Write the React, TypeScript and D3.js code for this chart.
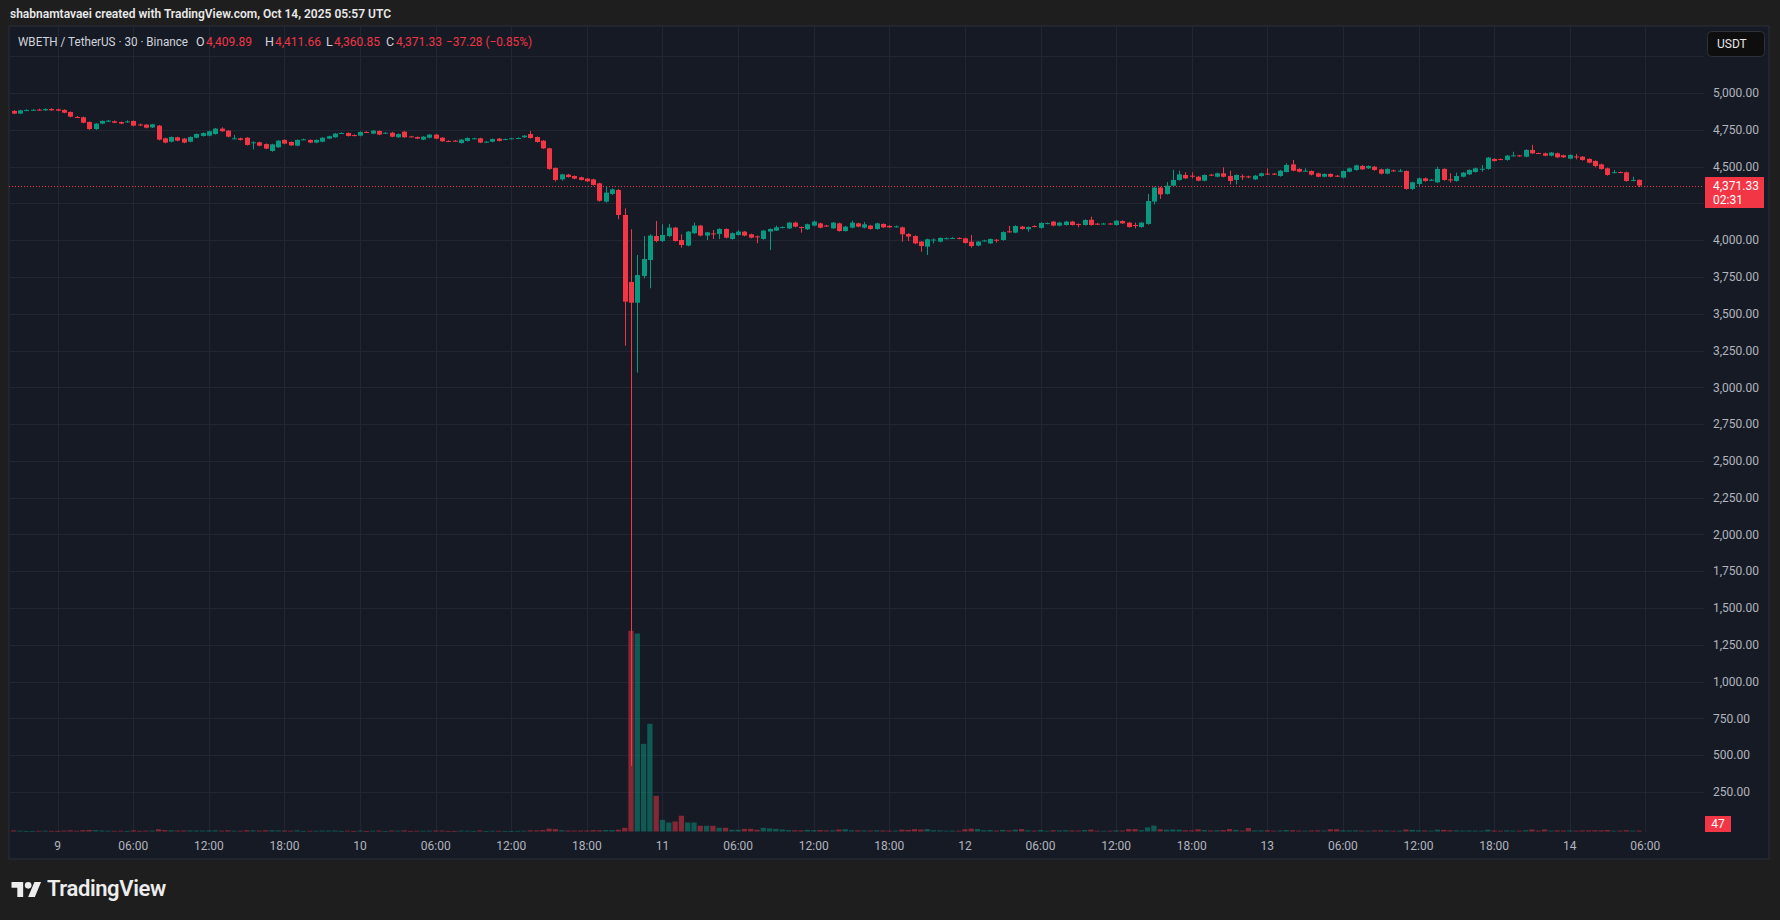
import React from "react";
import * as d3 from "d3";

// ---------- DATA ----------
const opens = [
  4878,4860,4882,4884,4887,4882,4891,4889,4885,4871,
  4837,4835,4803,4755,4792,4806,4808,4803,4803,4810,
  4786,4785,4766,4778,4692,4669,4699,4690,4669,4696,
  4708,4710,4721,4758,4744,4689,4692,4696,4661,4665,
  4653,4606,4631,4681,4667,4642,4683,4681,4663,4669,
  4690,4699,4726,4728,4714,4710,4735,4724,4742,4728,
  4730,4699,4737,4705,4701,4683,4696,4717,4696,4674,
  4676,4660,4674,4690,4692,4667,4669,4690,4685,4689,
  4692,4699,4721,4701,4676,4624,4490,4413,4445,4436,
  4427,4418,4413,4386,4262,4314,4341,4171,3716,3575,
  3757,3865,4028,3994,4028,4085,4001,3963,4047,4099,
  4031,4046,4042,4076,4008,4035,4058,4040,4026,4008,
  4058,4065,4085,4080,4119,4089,4074,4099,4114,4099,
  4080,4114,4062,4085,4114,4085,4099,4076,4110,4097,
  4090,4087,4042,4028,3990,3956,4001,3990,4010,4012,
  4015,4012,3990,3963,3995,3978,4003,4001,4060,4051,
  4092,4074,4096,4083,4113,4126,4099,4103,4126,4110,
  4103,4139,4112,4110,4113,4103,4130,4119,4103,4089,
  4110,4262,4357,4314,4370,4409,4443,4438,4431,4404,
  4445,4431,4454,4436,4409,4434,4433,4413,4436,4452,
  4452,4436,4463,4515,4484,4470,4470,4454,4431,4450,
  4438,4425,4465,4477,4504,4488,4499,4481,4452,4474,
  4468,4470,4348,4382,4420,4407,4393,4484,4413,4402,
  4431,4447,4463,4482,4484,4552,4551,4545,4573,4576,
  4567,4613,4592,4590,4574,4590,4577,4554,4569,4567,
  4552,4538,4515,4488,4459,4463,4461,4405,4409.89,
];
const highs = [
  4884,4886,4889,4890,4893,4896,4897,4893,4890,4875,
  4844,4840,4806,4795,4814,4817,4813,4806,4814,4814,
  4792,4788,4791,4783,4696,4705,4703,4694,4705,4725,
  4732,4744,4762,4767,4748,4715,4697,4700,4672,4669,
  4657,4655,4680,4685,4671,4685,4690,4685,4685,4700,
  4710,4728,4733,4732,4719,4739,4740,4748,4746,4734,
  4736,4725,4741,4709,4705,4707,4721,4721,4700,4679,
  4680,4687,4698,4696,4696,4673,4691,4694,4691,4696,
  4698,4714,4742,4705,4680,4628,4494,4451,4450,4440,
  4431,4422,4417,4390,4364,4352,4348,4216,4074,3899,
  4028,4040,4130,4108,4110,4090,4040,4062,4119,4104,
  4056,4069,4080,4080,4053,4069,4062,4044,4031,4069,
  4080,4099,4094,4124,4126,4092,4112,4133,4119,4104,
  4124,4119,4096,4133,4119,4124,4104,4119,4114,4101,
  4099,4092,4047,4033,3994,4010,4012,4019,4019,4020,
  4019,4017,4035,3994,4003,4012,4006,4060,4096,4101,
  4097,4094,4101,4122,4121,4131,4124,4131,4131,4114,
  4142,4160,4117,4117,4117,4137,4135,4124,4119,4124,
  4314,4362,4362,4395,4477,4472,4461,4461,4436,4447,
  4450,4459,4495,4472,4447,4447,4438,4443,4459,4488,
  4456,4477,4522,4545,4488,4488,4474,4459,4454,4454,
  4443,4474,4493,4513,4511,4508,4504,4486,4488,4479,
  4484,4474,4397,4425,4425,4416,4499,4488,4454,4459,
  4463,4481,4493,4511,4565,4557,4554,4579,4601,4579,
  4618,4647,4595,4595,4599,4595,4581,4583,4586,4572,
  4556,4543,4520,4493,4477,4467,4466,4431,4411.66,
];
const lows = [
  4856,4858,4877,4880,4881,4879,4880,4877,4862,4835,
  4829,4794,4749,4750,4788,4802,4795,4788,4797,4774,
  4776,4760,4762,4678,4658,4665,4672,4659,4665,4692,
  4704,4706,4717,4736,4699,4686,4677,4643,4617,4638,
  4618,4601,4627,4652,4640,4638,4679,4659,4659,4665,
  4686,4695,4722,4704,4706,4706,4728,4720,4713,4723,
  4699,4695,4695,4699,4686,4679,4692,4686,4668,4668,
  4668,4656,4670,4686,4659,4663,4665,4670,4681,4685,
  4688,4695,4690,4663,4620,4478,4398,4405,4425,4414,
  4405,4396,4371,4262,4255,4308,4142,3283,427,3100,
  3740,3673,3985,3988,4020,3990,3949,3958,4042,4026,
  4001,4008,4008,4012,4003,4031,4026,4012,3979,4003,
  3933,4062,4080,4076,4087,4051,4069,4094,4080,4090,
  4076,4058,4058,4080,4087,4080,4071,4071,4083,4083,
  4085,3990,3994,3972,3922,3899,3978,3985,4006,4008,
  4006,3976,3949,3958,3990,3974,3983,3996,4051,4047,
  4071,4058,4087,4078,4108,4094,4094,4099,4099,4087,
  4099,4099,4103,4106,4106,4099,4110,4085,4080,4085,
  4105,4243,4280,4309,4365,4404,4416,4420,4400,4400,
  4436,4427,4427,4379,4379,4409,4420,4409,4431,4443,
  4443,4431,4459,4468,4461,4465,4440,4427,4427,4427,
  4429,4420,4461,4472,4477,4484,4472,4447,4447,4465,
  4463,4343,4341,4364,4397,4402,4388,4404,4391,4397,
  4427,4443,4459,4465,4479,4534,4544,4540,4570,4568,
  4563,4586,4585,4570,4570,4558,4558,4550,4549,4540,
  4522,4495,4479,4438,4454,4454,4397,4400,4360.85,
];
const closes = [
  4860,4882,4884,4886,4884,4891,4882,4880,4866,4839,
  4834,4798,4755,4792,4810,4812,4798,4792,4807,4778,
  4783,4764,4787,4683,4663,4701,4676,4663,4701,4721,
  4728,4740,4758,4740,4703,4692,4681,4647,4665,4642,
  4622,4651,4676,4656,4644,4681,4685,4663,4681,4696,
  4706,4724,4728,4708,4712,4735,4732,4744,4717,4730,
  4703,4721,4699,4703,4690,4703,4717,4690,4672,4672,
  4672,4683,4694,4692,4663,4669,4687,4674,4687,4692,
  4694,4710,4694,4667,4624,4484,4409,4447,4429,4418,
  4409,4400,4375,4268,4323,4345,4171,3582,3575,3763,
  3872,4031,3994,4035,4085,3994,3967,4058,4099,4031,
  4053,4042,4076,4017,4047,4058,4031,4017,4022,4065,
  4076,4087,4089,4119,4092,4085,4108,4126,4085,4096,
  4119,4062,4092,4119,4092,4108,4076,4114,4087,4087,
  4094,4040,4024,3978,3960,4006,4004,4015,4013,4015,
  4012,3981,3960,3990,3998,4008,4001,4055,4056,4096,
  4076,4089,4092,4117,4116,4099,4119,4126,4103,4106,
  4137,4103,4108,4113,4110,4132,4114,4089,4099,4119,
  4266,4357,4311,4370,4409,4447,4420,4434,4404,4443,
  4441,4454,4431,4402,4443,4431,4429,4438,4454,4448,
  4449,4472,4511,4472,4465,4472,4445,4431,4450,4431,
  4434,4470,4488,4508,4481,4504,4477,4452,4484,4470,
  4472,4348,4393,4420,4402,4411,4484,4409,4411,4436,
  4459,4477,4488,4485,4561,4538,4548,4574,4576,4573,
  4613,4590,4589,4574,4595,4563,4563,4579,4566,4545,
  4527,4504,4484,4443,4462,4459,4402,4409,4371.33,
];
const volumes = [
  52,38,30,28,35,41,33,30,44,58,36,62,75,66,48,40,35,38,30,55,34,42,47,
  110,70,58,45,50,52,48,44,50,56,42,60,40,38,62,55,44,58,60,52,46,40,55,30,38,36,45,
  42,48,30,40,28,44,26,40,45,28,50,40,55,30,36,40,42,48,46,30,28,44,40,30,50,28,38,36,28,30,32,40,58,52,70,
  140,120,60,48,44,50,46,68,60,70,70,90,180,9800,9670,4280,5260,
  1740,570,440,490,770,440,440,280,280,280,180,180,85,85,130,130,85,180,150,130,100,
  70,60,55,80,65,70,50,60,100,110,
  60,55,50,45,60,50,40,45,90,80,
  120,100,120,60,55,40,45,40,110,140,
  120,60,70,45,80,55,90,120,60,45,
  70,40,60,55,60,50,45,70,90,40,
  35,40,55,50,120,120,70,200,290,110,
  90,100,90,60,55,110,70,50,60,70,
  120,80,45,170,50,55,60,40,50,70,
  60,45,40,50,55,45,110,110,60,50,
  55,45,40,50,55,50,40,45,100,80,
  60,50,40,90,80,60,55,45,50,45,
  40,90,50,40,55,45,40,60,100,45,
  100,45,55,45,50,40,50,55,60,55,
  70,40,45,60,40,47,
];
const timeTickLabels = [
  "9","06:00","12:00","18:00","10","06:00","12:00","18:00","11","06:00","12:00",
  "18:00","12","06:00","12:00","18:00","13","06:00","12:00","18:00","14","06:00",
];
const priceTicks = [250,500,750,1000,1250,1500,1750,2000,2250,2500,2750,3000,3250,3500,3750,4000,4250,4500,4750,5000];
const gridOnlyPrices = [5250];
const firstBarTime = Date.UTC(2025, 9, 8, 20, 30);
const barMinutes = 30;
const lastPrice = 4371.33;
const countdown = "02:31";
const lastVolume = 47;
const legendTitle = "WBETH / TetherUS · 30 · Binance";
const legendKeys = ["O", "H", "L", "C"];
const legendVals = ["4,409.89", "4,411.66", "4,360.85", "4,371.33"];
const changeText = "−37.28 (−0.85%)";
const headerText = "shabnamtavaei created with TradingView.com, Oct 14, 2025 05:57 UTC";

// ---------- STYLE ----------
const UP = "#089981";
const DOWN = "#f23645";
const UP_VOL = "rgba(8,153,129,0.5)";
const DOWN_VOL = "rgba(242,54,69,0.5)";
const OUTER_BG = "#1e1e1e";
const PANE_BG = "#161a25";
const GRID = "#222632";
const TEXT = "#b2b5be";
const FONT = "Roboto, 'DejaVu Sans', sans-serif";

export default function App() {
  const W = 1780, H = 920;
  const paneL = 9, paneR = 1769, paneT = 26, paneB = 859;
  const plotR = 1704, plotB = 832;

  const times = closes.map((_, i) => new Date(firstBarTime + i * barMinutes * 60000));
  const x = d3.scaleUtc().domain([times[0], times[times.length - 1]]).range([13.6, 1639]);
  const y = d3.scaleLinear().domain([0, 5250]).range([828.8, 56.2]);
  const yv = d3.scaleLinear().domain([0, 9800]).range([831.5, 630.8]);
  const tickDates = d3.utcHour.every(6)!.range(times[0], new Date(+times[times.length - 1] + 31 * 60000));
  const fmt = d3.format(",.2f");

  const bodyW = 5;
  const volW = 5.3;
  const lastY = y(lastPrice);
  const labelBoxTop = lastY - 8.5;
  const labelBoxBottom = lastY + 22.5;

  const keyX = [196, 265, 326, 386];
  const valX = [206, 275, 334, 396];

  return (
    <svg width={W} height={H} style={{ position: "absolute", left: 0, top: 0, display: "block" }} fontFamily={FONT}>
      <defs>
        <clipPath id="plotClip">
          <rect x={paneL} y={paneT} width={plotR - paneL} height={plotB - paneT} />
        </clipPath>
      </defs>
      <rect x={0} y={0} width={W} height={H} fill={OUTER_BG} />
      {/* header */}
      <text x={10} y={18} fill="#e9e9e9" fontSize={13} fontWeight={600} textLength={381} lengthAdjust="spacingAndGlyphs">{headerText}</text>

      {/* pane */}
      <rect x={paneL} y={paneT} width={paneR - paneL} height={paneB - paneT} fill={PANE_BG} stroke="#2a2e39" strokeWidth={1} />

      {/* grid */}
      <g shapeRendering="crispEdges">
        {[...priceTicks, ...gridOnlyPrices].map((p) => (
          <line key={"h" + p} x1={paneL} x2={plotR} y1={Math.round(y(p)) + 0.5} y2={Math.round(y(p)) + 0.5} stroke={GRID} />
        ))}
        {tickDates.map((d, i) => (
          <line key={"v" + i} x1={Math.round(x(d)) + 0.5} x2={Math.round(x(d)) + 0.5} y1={paneT} y2={plotB} stroke={GRID} />
        ))}
      </g>

      {/* volume */}
      <g clipPath="url(#plotClip)">
        {volumes.map((v, i) => {
          const up = closes[i] >= opens[i];
          const top = yv(v);
          return (
            <rect key={"vol" + i} x={x(times[i]) - volW / 2} y={top} width={volW} height={Math.max(0.8, yv(0) - top)} fill={up ? UP_VOL : DOWN_VOL} />
          );
        })}
      </g>

      {/* price line */}
      <line x1={paneL} x2={plotR} y1={Math.round(lastY) + 0.5} y2={Math.round(lastY) + 0.5} stroke={DOWN} strokeDasharray="1 2" />

      {/* candles */}
      <g clipPath="url(#plotClip)">
        {closes.map((c, i) => {
          const o = opens[i];
          const up = c >= o;
          const col = up ? UP : DOWN;
          const cx = x(times[i]);
          const yTop = y(Math.max(o, c));
          const yBot = y(Math.min(o, c));
          return (
            <g key={"c" + i}>
              <line x1={Math.round(cx) + 0.5} x2={Math.round(cx) + 0.5} y1={y(highs[i])} y2={y(lows[i])} stroke={col} strokeWidth={1} />
              <rect x={Math.round(cx) - 2} y={yTop} width={bodyW} height={Math.max(1, yBot - yTop)} fill={col} />
            </g>
          );
        })}
      </g>

      {/* legend */}
      <g fill="#d1d4dc">
        <text x={18} y={46} fontSize={12} textLength={170} lengthAdjust="spacingAndGlyphs">{legendTitle}</text>
        {legendKeys.map((k, i) => (
          <g key={k}>
            <text x={keyX[i]} y={46} fontSize={12.5} fill="#d1d4dc">{k}</text>
            <text x={valX[i]} y={46} fontSize={12.5} fill={DOWN} textLength={46} lengthAdjust="spacingAndGlyphs">{legendVals[i]}</text>
          </g>
        ))}
        <text x={446} y={46} fontSize={12.5} fill={DOWN} textLength={86} lengthAdjust="spacingAndGlyphs">{changeText}</text>
      </g>

      {/* price axis labels */}
      <g fontSize={12} fill={TEXT}>
        {priceTicks
          .filter((p) => y(p) + 7 < labelBoxTop || y(p) - 7 > labelBoxBottom)
          .map((p) => (
            <text key={"pl" + p} x={1713} y={y(p)} dy="0.35em">{fmt(p)}</text>
          ))}
      </g>

      {/* USDT button */}
      <rect x={1707.5} y={31.5} width={57} height={25} rx={4} fill="#0e0e0e" stroke="#2e3038" />
      <text x={1717} y={48} fontSize={12} fill="#e6e6e6">USDT</text>

      {/* last price label */}
      <rect x={1705} y={labelBoxTop} width={59} height={31} fill={DOWN} />
      <text x={1713} y={lastY + 4} fontSize={12} fill="#ffffff">{fmt(lastPrice)}</text>
      <text x={1713} y={lastY + 18} fontSize={12} fill="#ffffff">{countdown}</text>

      {/* volume label */}
      <rect x={1705} y={816} width={26} height={16} fill={DOWN} />
      <text x={1718} y={824} dy="0.35em" textAnchor="middle" fontSize={12} fill="#ffffff">{lastVolume}</text>

      {/* time axis */}
      <g fontSize={12} fill={TEXT}>
        {tickDates.map((d, i) => (
          <text key={"tl" + i} x={x(d)} y={846} dy="0.35em" textAnchor="middle">{timeTickLabels[i]}</text>
        ))}
      </g>

      {/* logo */}
      <g transform="translate(11.5,878.7) scale(0.833)" fill="#ededed">
        <path d="M14 22H7V11H0V4h14v18zM28 22h-8l7.5-18h8L28 22z" />
        <circle cx={20} cy={8} r={4} />
      </g>
      <text x={47} y={896} fontSize={22} fontWeight={600} fill="#ededed" letterSpacing="-0.4">TradingView</text>
    </svg>
  );
}
